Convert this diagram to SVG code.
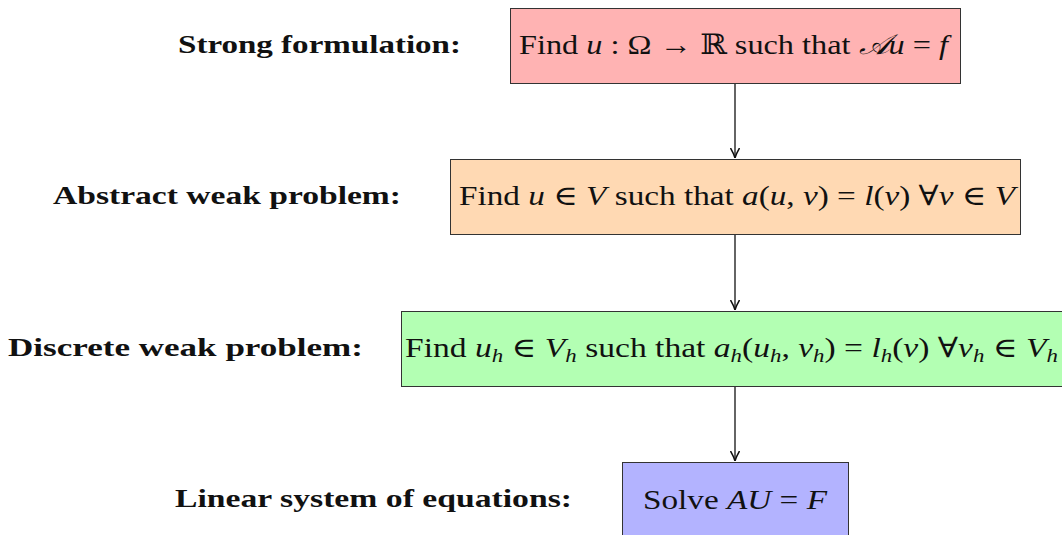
<svg xmlns="http://www.w3.org/2000/svg" width="1062" height="535" viewBox="0 0 1062 535">
<defs>
<style>
.box{stroke:#333;stroke-width:1}
.t{font-family:"Liberation Serif","DejaVu Serif",serif;font-size:28px;fill:#111}
.lab{font-family:"Liberation Serif","DejaVu Serif",serif;font-size:26px;font-weight:bold;fill:#111}
.m{font-style:italic}
.conn{stroke:#111;stroke-width:1.3;fill:none}
</style>
<marker id="ah" viewBox="0 0 10 10" refX="10" refY="5" markerWidth="10" markerHeight="10" markerUnits="userSpaceOnUse" orient="auto">
<path d="M0,0.5 Q6,4 10,5 Q6,6 0,9.5" fill="none" stroke="#111" stroke-width="1.5"/>
</marker>
</defs>
<rect width="1062" height="535" fill="#fff"/>
<g id="connectors">
<line class="conn" x1="735" y1="84" x2="735" y2="158" marker-end="url(#ah)"/>
<line class="conn" x1="735" y1="235" x2="735" y2="310" marker-end="url(#ah)"/>
<line class="conn" x1="735" y1="386" x2="735" y2="461" marker-end="url(#ah)"/>
</g>
<g id="strong">
<rect class="box" x="510.5" y="8.5" width="450" height="75" fill="#FFB3B3"/>
<text class="t" x="519" y="54" textLength="429" lengthAdjust="spacingAndGlyphs">Find <tspan class="m">u</tspan> : Ω → ℝ such that <tspan class="m">𝒜u</tspan> = <tspan class="m">f</tspan></text>
<text class="lab" x="178" y="53" textLength="283" lengthAdjust="spacingAndGlyphs">Strong formulation:</text>
</g>
<g id="weak">
<rect class="box" x="450.5" y="159.5" width="570" height="75" fill="#FFD9B3"/>
<text class="t" x="459" y="205" textLength="556" lengthAdjust="spacingAndGlyphs">Find <tspan class="m">u</tspan> ∈ <tspan class="m">V</tspan> such that <tspan class="m">a</tspan>(<tspan class="m">u</tspan>, <tspan class="m">v</tspan>) = <tspan class="m">l</tspan>(<tspan class="m">v</tspan>) ∀<tspan class="m">v</tspan> ∈ <tspan class="m">V</tspan></text>
<text class="lab" x="53" y="204" textLength="348" lengthAdjust="spacingAndGlyphs">Abstract weak problem:</text>
</g>
<g id="discrete">
<rect class="box" x="401.5" y="311.5" width="670" height="75" fill="#B3FFB3"/>
<text class="t" x="405" y="357" textLength="653" lengthAdjust="spacingAndGlyphs">Find <tspan class="m">u<tspan font-size="19" dy="5">h</tspan></tspan><tspan dy="-5"> ∈ </tspan><tspan class="m">V<tspan font-size="19" dy="5">h</tspan></tspan><tspan dy="-5"> such that </tspan><tspan class="m">a<tspan font-size="19" dy="5">h</tspan></tspan><tspan dy="-5">(</tspan><tspan class="m">u<tspan font-size="19" dy="5">h</tspan></tspan><tspan dy="-5">, </tspan><tspan class="m">v<tspan font-size="19" dy="5">h</tspan></tspan><tspan dy="-5">) = </tspan><tspan class="m">l<tspan font-size="19" dy="5">h</tspan></tspan><tspan dy="-5">(</tspan><tspan class="m">v</tspan>) ∀<tspan class="m">v<tspan font-size="19" dy="5">h</tspan></tspan><tspan dy="-5"> ∈ </tspan><tspan class="m">V<tspan font-size="19" dy="5">h</tspan></tspan></text>
<text class="lab" x="8" y="356" textLength="355" lengthAdjust="spacingAndGlyphs">Discrete weak problem:</text>
</g>
<g id="linear">
<rect class="box" x="622.5" y="462.5" width="226" height="80" fill="#B3B3FF"/>
<text class="t" x="643" y="509" textLength="184" lengthAdjust="spacingAndGlyphs">Solve <tspan class="m">AU</tspan> = <tspan class="m">F</tspan></text>
<text class="lab" x="175" y="507" textLength="397" lengthAdjust="spacingAndGlyphs">Linear system of equations:</text>
</g>
</svg>
